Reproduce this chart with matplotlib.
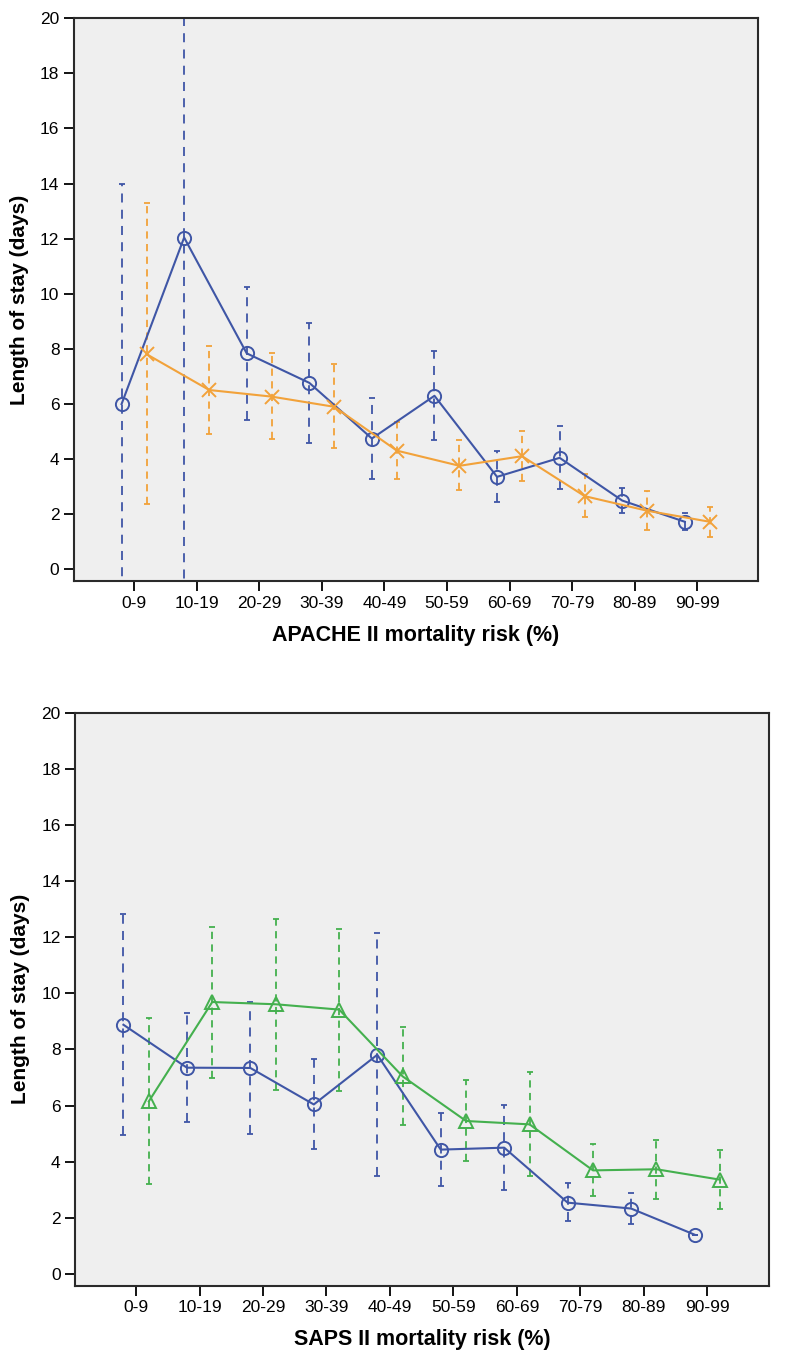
import numpy as np
import matplotlib
matplotlib.use("Agg")
import matplotlib.pyplot as plt

plt.rcParams['font.family'] = ['Liberation Sans', 'DejaVu Sans']

# категории риска летальности
groups = ['0-9', '10-19', '20-29', '30-39', '40-49',
          '50-59', '60-69', '70-79', '80-89', '90-99']

# APACHE II: синяя серия (среднее, нижняя и верхняя границы)
apache_blue = [6.0, 12.04, 7.84, 6.77, 4.75, 6.30, 3.36, 4.05, 2.50, 1.73]
apache_blue_lo = [-2.0, -1.5, 5.44, 4.57, 3.28, 4.69, 2.43, 2.91, 2.05, 1.43]
apache_blue_hi = [13.98, 25.5, 10.26, 8.95, 6.23, 7.92, 4.29, 5.21, 2.96, 2.05]
# APACHE II: оранжевая серия
apache_orange = [7.81, 6.51, 6.27, 5.90, 4.31, 3.76, 4.11, 2.66, 2.13, 1.73]
apache_orange_lo = [2.37, 4.91, 4.75, 4.41, 3.28, 2.90, 3.20, 1.91, 1.43, 1.18]
apache_orange_hi = [13.31, 8.11, 7.86, 7.44, 5.36, 4.69, 5.02, 3.46, 2.84, 2.25]

# SAPS II: синяя серия
saps_blue = [8.88, 7.35, 7.34, 6.04, 7.81, 4.43, 4.50, 2.54, 2.33, 1.40]
saps_blue_lo = [4.94, 5.41, 4.97, 4.44, 3.48, 3.12, 3.00, 1.87, 1.77, 1.40]
saps_blue_hi = [12.82, 9.31, 9.69, 7.65, 12.16, 5.73, 6.01, 3.24, 2.88, 1.40]
# SAPS II: зелёная серия
saps_green = [6.15, 9.69, 9.61, 9.42, 7.04, 5.45, 5.33, 3.69, 3.73, 3.36]
saps_green_lo = [3.19, 6.99, 6.54, 6.52, 5.29, 4.03, 3.48, 2.77, 2.68, 2.30]
saps_green_hi = [9.12, 12.38, 12.66, 12.30, 8.80, 6.90, 7.20, 4.62, 4.78, 4.40]

BLUE = '#3f56a6'
ORANGE = '#f2a23a'
GREEN = '#44b04e'


def series(ax, x, y, lo, hi, color, marker, dash):
    y = np.array(y)
    err = [y - np.array(lo), np.array(hi) - y]
    eb = ax.errorbar(x, y, yerr=err, fmt='none', ecolor=color, elinewidth=1.3,
                     capsize=2.5, capthick=1.3, zorder=2)
    eb[-1][0].set_linestyle(dash)
    ax.plot(x, y, color=color, lw=1.5, marker=marker, markersize=9.5,
            markerfacecolor='none', markeredgecolor=color, markeredgewidth=1.4,
            zorder=3)


def style(ax, xlabel):
    ax.set_facecolor('#efefef')
    ax.set_xlim(-0.96, 9.97)
    ax.set_ylim(-0.42, 20)
    ax.set_yticks(np.arange(0, 21, 2))
    ax.set_xticks(np.arange(len(groups)))
    ax.set_xticklabels(groups)
    ax.tick_params(axis='both', direction='out', length=7, width=1.3,
                   labelsize=12.5, colors='black')
    for s in ax.spines.values():
        s.set_linewidth(1.5)
        s.set_color('#2a2a2a')
    ax.set_ylabel('Length of stay (days)', fontsize=15, fontweight='bold',
                  labelpad=8)
    ax.set_xlabel(xlabel, fontsize=15.5, fontweight='bold', labelpad=10)


def main():
    fig = plt.figure(figsize=(8, 13.63), dpi=100)
    x = np.arange(len(groups))

    ax1 = fig.add_axes([0.0925, 0.5737, 0.855, 0.413])
    series(ax1, x - 0.2, apache_blue, apache_blue_lo, apache_blue_hi,
           BLUE, 'o', (0, (5, 4)))
    series(ax1, x + 0.2, apache_orange, apache_orange_lo, apache_orange_hi,
           ORANGE, 'x', (0, (4, 3)))
    style(ax1, 'APACHE II mortality risk (%)')

    ax2 = fig.add_axes([0.094, 0.0567, 0.867, 0.4204])
    series(ax2, x - 0.2, saps_blue, saps_blue_lo, saps_blue_hi,
           BLUE, 'o', (0, (5, 4)))
    series(ax2, x + 0.2, saps_green, saps_green_lo, saps_green_hi,
           GREEN, '^', (0, (4, 3)))
    style(ax2, 'SAPS II mortality risk (%)')

    fig.savefig('out.png', dpi=100, facecolor='white')


if __name__ == '__main__':
    main()
